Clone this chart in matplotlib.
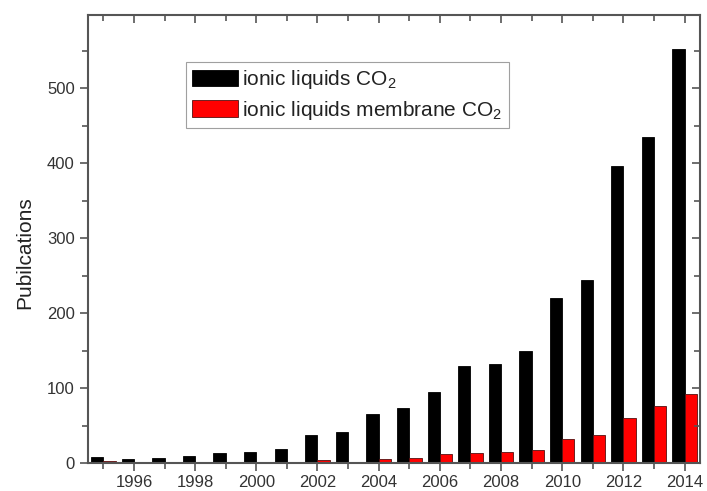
import matplotlib
matplotlib.use('Agg')
import matplotlib.pyplot as plt
from matplotlib.ticker import MultipleLocator

plt.rcParams['font.family'] = ['Liberation Sans', 'DejaVu Sans']
plt.rcParams['mathtext.default'] = 'regular'

# ---------- DATOS ----------
anios = [1995, 1996, 1997, 1998, 1999, 2000, 2001, 2002, 2003, 2004,
         2005, 2006, 2007, 2008, 2009, 2010, 2011, 2012, 2013, 2014]
il_co2 = [8, 5, 7, 10, 13, 15, 19, 37, 42, 65,
          74, 95, 129, 132, 150, 220, 244, 397, 435, 552]
il_membrana_co2 = [3, 0, 0, 2, 2, 0, 0, 4, 0, 6,
                   7, 12, 13, 15, 17, 32, 38, 60, 76, 92]

# ---------- GRAFICAR ----------
fig = plt.figure(figsize=(7.07, 4.91), dpi=100)
ax = fig.add_axes([0.1245, 0.057, 0.8655, 0.9125])

ancho = 0.4
ax.bar([a - ancho for a in anios], il_co2, width=ancho, align='edge',
       color='black', edgecolor='black', linewidth=0.6,
       label='ionic liquids CO$_2$')
ax.bar(anios, il_membrana_co2, width=ancho, align='edge',
       color='#ff0000', edgecolor='#551111', linewidth=0.6,
       label='ionic liquids membrane CO$_2$')

ax.set_xlim(1994.5, 2014.5)
ax.set_ylim(0, 598)
ax.xaxis.set_major_locator(MultipleLocator(2))
ax.xaxis.set_minor_locator(MultipleLocator(1))
ax.yaxis.set_major_locator(MultipleLocator(100))
ax.yaxis.set_minor_locator(MultipleLocator(50))

for s in ax.spines.values():
    s.set_color('#555555')
    s.set_linewidth(1.5)

ax.tick_params(which='both', color='#555555', labelcolor='#333333',
               labelsize=12, width=1.2)
ax.tick_params(which='major', length=6)
ax.tick_params(which='minor', length=4)
ax.tick_params(which='both', top=True, right=True)
ax.tick_params(axis='x', which='both', direction='out', pad=2.5)
ax.tick_params(axis='y', which='both', direction='out')
# ticks de arriba y derecha hacia adentro
for t in ax.xaxis.get_major_ticks() + ax.xaxis.get_minor_ticks():
    t.tick2line.set_marker(3)
for t in ax.yaxis.get_major_ticks() + ax.yaxis.get_minor_ticks():
    t.tick2line.set_marker(0)

ax.set_ylabel('Pubilcations', fontsize=15, color='#222222')
ax.yaxis.set_label_coords(-0.088, 0.47)

leg = ax.legend(loc='upper left', bbox_to_anchor=(0.16, 0.895),
                borderaxespad=0, fontsize=15, frameon=True, fancybox=False,
                handlelength=2.2, handleheight=0.85, handletextpad=0.2,
                labelspacing=0.35, borderpad=0.3)
leg.get_frame().set_edgecolor('#888888')
leg.get_frame().set_linewidth(0.8)
for txt in leg.get_texts():
    txt.set_color('#222222')

fig.savefig('out.png', dpi=100)
